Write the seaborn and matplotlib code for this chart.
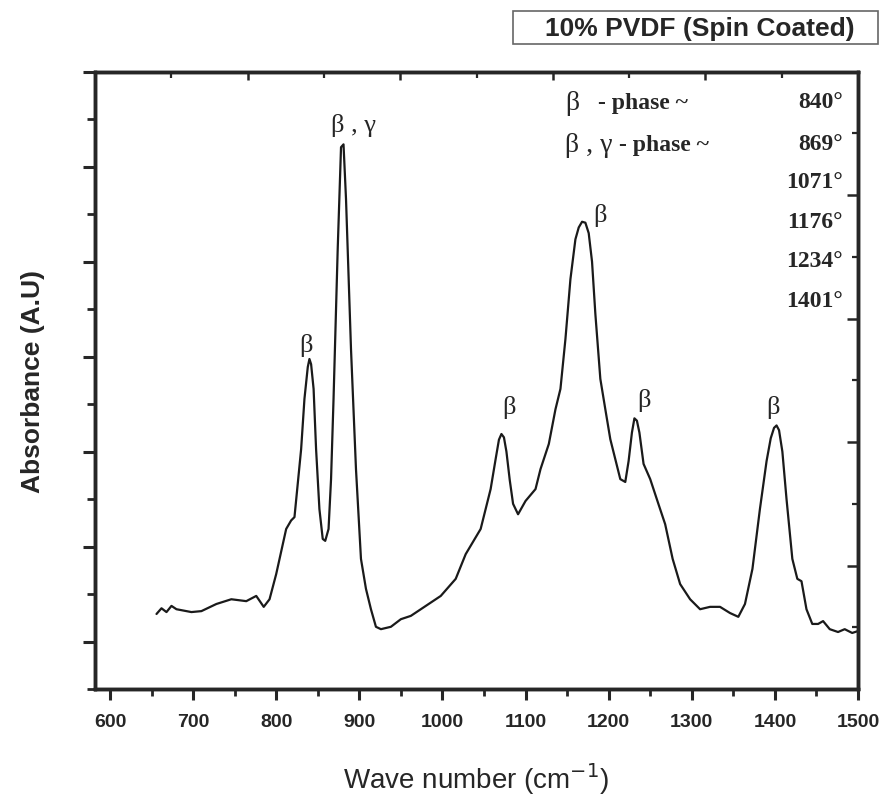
import matplotlib
matplotlib.use("Agg")
import matplotlib.pyplot as plt
import matplotlib.patches as mpatches
from matplotlib.ticker import MultipleLocator, FixedLocator, NullFormatter
import seaborn as sns
import pandas as pd

# ---- data ----
wavenumber = [656, 662, 668, 674, 680, 686, 698, 710, 728, 746, 764, 776, 785, 792,
              800, 812, 818, 822, 830, 834, 838, 840, 842, 845, 848, 852, 856, 859,
              863, 866, 869, 874, 878, 881, 884, 890, 896, 902, 908, 914, 920, 926,
              938, 950, 962, 974, 998, 1016, 1028, 1046, 1058, 1064, 1068, 1071, 1074,
              1077, 1081, 1085, 1091, 1100, 1112, 1118, 1128, 1136, 1142, 1148, 1154,
              1160, 1164, 1168, 1172, 1176, 1180, 1184, 1190, 1196, 1202, 1214, 1220,
              1224, 1228, 1231, 1234, 1237, 1242, 1250, 1260, 1268, 1277, 1286, 1298,
              1310, 1322, 1334, 1346, 1356, 1364, 1373, 1382, 1390, 1395, 1399, 1402,
              1405, 1409, 1414, 1421, 1427, 1432, 1438, 1445, 1452, 1458, 1466, 1476,
              1484, 1493, 1500]
absorbance = [0.058, 0.070, 0.062, 0.075, 0.068, 0.066, 0.062, 0.064, 0.079, 0.089,
              0.085, 0.096, 0.073, 0.089, 0.142, 0.237, 0.255, 0.262, 0.405, 0.511,
              0.578, 0.595, 0.584, 0.532, 0.405, 0.279, 0.216, 0.212, 0.237, 0.342,
              0.511, 0.826, 1.041, 1.047, 0.932, 0.616, 0.363, 0.174, 0.111, 0.068,
              0.031, 0.026, 0.031, 0.047, 0.054, 0.068, 0.096, 0.132, 0.184, 0.237,
              0.321, 0.384, 0.425, 0.437, 0.430, 0.400, 0.340, 0.290, 0.268, 0.296,
              0.321, 0.363, 0.416, 0.489, 0.532, 0.637, 0.763, 0.847, 0.872, 0.884,
              0.882, 0.860, 0.800, 0.690, 0.553, 0.489, 0.426, 0.342, 0.336, 0.380,
              0.440, 0.470, 0.465, 0.440, 0.374, 0.342, 0.289, 0.247, 0.174, 0.121,
              0.089, 0.068, 0.073, 0.073, 0.060, 0.052, 0.079, 0.153, 0.279, 0.380,
              0.428, 0.450, 0.455, 0.445, 0.400, 0.300, 0.174, 0.132, 0.127, 0.068,
              0.037, 0.037, 0.043, 0.026, 0.020, 0.026, 0.018, 0.022]

peak_labels = ["β", "β , γ", "β", "β", "β", "β"]
peak_label_x = [836, 893, 1080, 1190, 1242, 1398]
peak_label_y = [0.626, 1.089, 0.494, 0.900, 0.510, 0.494]

phase_labels = ["β", "β , γ"]
phase_texts = ["- phase ~", "- phase ~"]
band_labels = ["840°", "869°", "1071°", "1176°", "1234°", "1401°"]

x_ticks = [600, 700, 800, 900, 1000, 1100, 1200, 1300, 1400, 1500]
title_text = "10% PVDF (Spin Coated)"

df = pd.DataFrame({"wavenumber": wavenumber, "absorbance": absorbance})

# ---- figure ----
sns.set_style("ticks")
plt.rcParams["font.family"] = ["Liberation Sans", "DejaVu Sans"]
fig = plt.figure(figsize=(8.9, 8.03), dpi=100)
ax = fig.add_axes([95 / 890, 1 - 690 / 803, (858 - 95) / 890, (690 - 72.7) / 803])

sns.lineplot(data=df, x="wavenumber", y="absorbance", ax=ax, color="#1a1a1a",
             linewidth=1.6, estimator=None, sort=False)

ax.set_xlim(582, 1500)
ax.set_ylim(-0.1, 1.2)
ax.set_xticks(x_ticks)
ax.xaxis.set_minor_locator(MultipleLocator(50))
ax.yaxis.set_major_locator(MultipleLocator(0.2))
ax.yaxis.set_minor_locator(MultipleLocator(0.1))
ax.yaxis.set_major_formatter(NullFormatter())
ax.tick_params(axis="x", which="major", direction="out", length=8, width=2.2,
               labelsize=14, pad=9)
ax.tick_params(axis="x", which="minor", direction="out", length=5, width=2.0)
ax.tick_params(axis="y", which="major", direction="out", length=9, width=2.2)
ax.tick_params(axis="y", which="minor", direction="out", length=6, width=2.0)
for lab in ax.get_xticklabels():
    lab.set_fontweight("bold")
for sp in ax.spines.values():
    sp.set_linewidth(2.4)
    sp.set_visible(True)

ax.set_xlabel("Wave number (cm$^{-1}$)", fontsize=20, labelpad=22)
ax.set_ylabel("Absorbance (A.U)", fontsize=19, fontweight="bold")
ax.yaxis.set_label_coords(-0.066, 0.5)

# secondary (unlabelled) tick sets on top and right
ax_top = ax.twiny()
ax_top.set_xlim(0, 10)
ax_top.xaxis.set_major_locator(FixedLocator([0, 2, 4, 6, 8, 10]))
ax_top.xaxis.set_minor_locator(FixedLocator([1, 3, 5, 7, 9]))
ax_top.tick_params(axis="x", which="major", direction="in", length=6, width=1.8,
                   labeltop=False)
ax_top.tick_params(axis="x", which="minor", direction="in", length=4, width=1.6)
ax_top.xaxis.set_major_formatter(NullFormatter())

ax_right = ax.twinx()
ax_right.set_ylim(0, 10)
ax_right.yaxis.set_major_locator(FixedLocator([0, 2, 4, 6, 8, 10]))
ax_right.yaxis.set_minor_locator(FixedLocator([1, 3, 5, 7, 9]))
ax_right.tick_params(axis="y", which="major", direction="in", length=8, width=1.8,
                     labelright=False)
ax_right.tick_params(axis="y", which="minor", direction="in", length=4, width=1.6)
ax_right.yaxis.set_major_formatter(NullFormatter())
for a in (ax_top, ax_right):
    for sp in a.spines.values():
        sp.set_linewidth(2.4)

# peak labels
for t, px, py in zip(peak_labels, peak_label_x, peak_label_y):
    ax.text(px, py, t, ha="center", va="center", fontsize=19,
            family="Liberation Serif")

# legend-like annotation block
row_y = [103, 145]
for lab, yy in zip(phase_labels, row_y):
    fig.text(565 / 890, 1 - yy / 803, lab, ha="left", va="center", fontsize=20,
             family="Liberation Serif")
tx = [598, 619]
for txt, x0, yy in zip(phase_texts, tx, row_y):
    fig.text(x0 / 890, 1 - yy / 803, txt, ha="left", va="center", fontsize=17,
             family="Liberation Serif", fontweight="bold")
band_y = [103, 145, 182, 222, 262, 302]
for txt, yy in zip(band_labels, band_y):
    fig.text(843 / 890, 1 - yy / 803, txt, ha="right", va="center", fontsize=17,
             family="Liberation Serif", fontweight="bold")

# title box
fig.patches.append(mpatches.Rectangle((513 / 890, 1 - 45 / 803), 365 / 890, 33 / 803,
                                      transform=fig.transFigure, fill=False,
                                      edgecolor="#666666", linewidth=1.2))
fig.text(700 / 890, 1 - 29 / 803, title_text, ha="center", va="center",
         fontsize=19, fontweight="bold")

fig.savefig("out.png", dpi=100)
